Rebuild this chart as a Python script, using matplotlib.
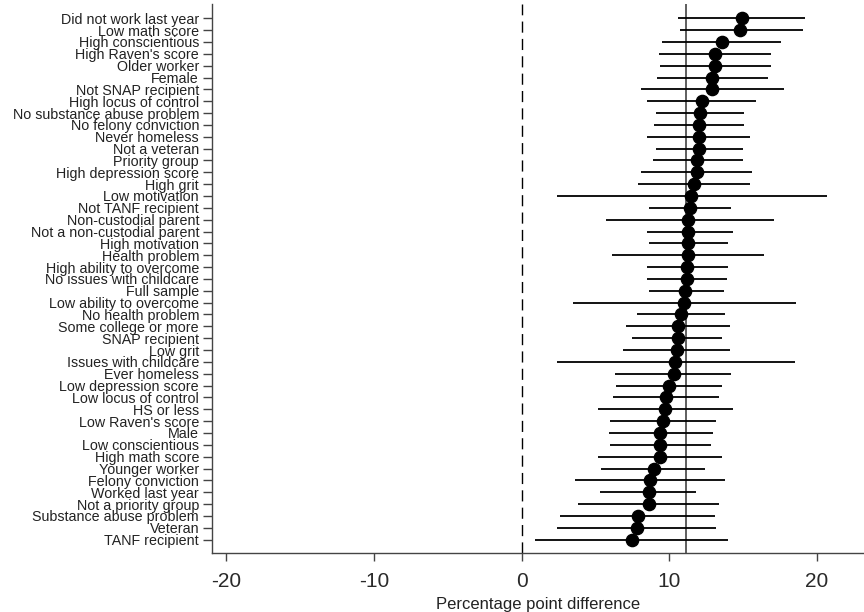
import matplotlib
matplotlib.use("Agg")
import matplotlib.pyplot as plt

plt.rcParams['font.family'] = ['Liberation Sans', 'DejaVu Sans']

# subgroup estimates (percentage points) with 95% CI, top to bottom
labels = ["Did not work last year", "Low math score", "High conscientious",
          "High Raven's score", "Older worker", "Female", "Not SNAP recipient",
          "High locus of control", "No substance abuse problem",
          "No felony conviction", "Never homeless", "Not a veteran",
          "Priority group", "High depression score", "High grit",
          "Low motivation", "Not TANF recipient", "Non-custodial parent",
          "Not a non-custodial parent", "High motivation", "Health problem",
          "High ability to overcome", "No issues with childcare", "Full sample",
          "Low ability to overcome", "No health problem", "Some college or more",
          "SNAP recipient", "Low grit", "Issues with childcare", "Ever homeless",
          "Low depression score", "Low locus of control", "HS or less",
          "Low Raven's score", "Male", "Low conscientious", "High math score",
          "Younger worker", "Felony conviction", "Worked last year",
          "Not a priority group", "Substance abuse problem", "Veteran",
          "TANF recipient"]

est = [14.9, 14.8, 13.6, 13.1, 13.1, 12.9, 12.9, 12.2, 12.1, 12.0, 12.0, 12.0,
       11.9, 11.9, 11.7, 11.5, 11.4, 11.3, 11.3, 11.3, 11.3, 11.2, 11.2, 11.1,
       11.0, 10.8, 10.6, 10.6, 10.5, 10.4, 10.3, 10.0, 9.8, 9.7, 9.6, 9.4,
       9.4, 9.4, 9.0, 8.7, 8.6, 8.6, 7.9, 7.8, 7.5]

lo = [10.6, 10.7, 9.5, 9.3, 9.4, 9.2, 8.1, 8.5, 9.1, 9.0, 8.5, 9.1,
      8.9, 8.1, 7.9, 2.4, 8.6, 5.7, 8.5, 8.6, 6.1, 8.5, 8.5, 8.6,
      3.5, 7.8, 7.1, 7.5, 6.9, 2.4, 6.3, 6.4, 6.2, 5.2, 6.0, 5.9,
      6.0, 5.2, 5.4, 3.6, 5.3, 3.8, 2.6, 2.4, 0.9]

hi = [19.2, 19.1, 17.6, 16.9, 16.9, 16.7, 17.8, 15.9, 15.1, 15.1, 15.5, 15.0,
      15.0, 15.6, 15.5, 20.7, 14.2, 17.1, 14.3, 14.0, 16.4, 14.0, 13.9, 13.7,
      18.6, 13.8, 14.1, 13.6, 14.1, 18.5, 14.2, 13.6, 13.4, 14.3, 13.2, 13.0,
      12.8, 13.6, 12.4, 13.8, 11.8, 13.4, 13.1, 13.2, 14.0]

full_sample_line = 11.15
xticks = [-20, -10, 0, 10, 20]

fig = plt.figure(figsize=(8.64, 6.12), dpi=100)
ax = fig.add_axes([0.2457, 0.097, 0.7543, 0.896])

y = list(range(len(labels)))
ax.axvline(0, color="black", lw=1.0, ls=(0, (8, 4.5)), zorder=1)
ax.axvline(full_sample_line, color="#333333", lw=1.1, zorder=1)
ax.hlines(y, lo, hi, color="black", lw=1.3, zorder=2)
ax.plot(est, y, "o", color="black", ms=8.8, zorder=3)

ax.set_yticks(y)
ax.set_yticklabels(labels, fontsize=10.3, color="#222222")
ax.set_ylim(len(labels) - 1 + 1.1, -1.18)
ax.set_xlim(-20.96, 23.2)
ax.set_xticks(xticks)
ax.set_xticklabels([str(t) for t in xticks], fontsize=15, color="#2a2a2a")
ax.set_xlabel("Percentage point difference", fontsize=12, color="#222222",
              labelpad=4)

for s in ["top", "right"]:
    ax.spines[s].set_visible(False)
for s in ["left", "bottom"]:
    ax.spines[s].set_color("#444444")
    ax.spines[s].set_linewidth(1.0)
ax.tick_params(axis="y", length=6.5, width=1.0, color="#444444", pad=3)
ax.tick_params(axis="x", length=6, width=1.0, color="#444444", pad=8)

fig.savefig("out.png", dpi=100)
